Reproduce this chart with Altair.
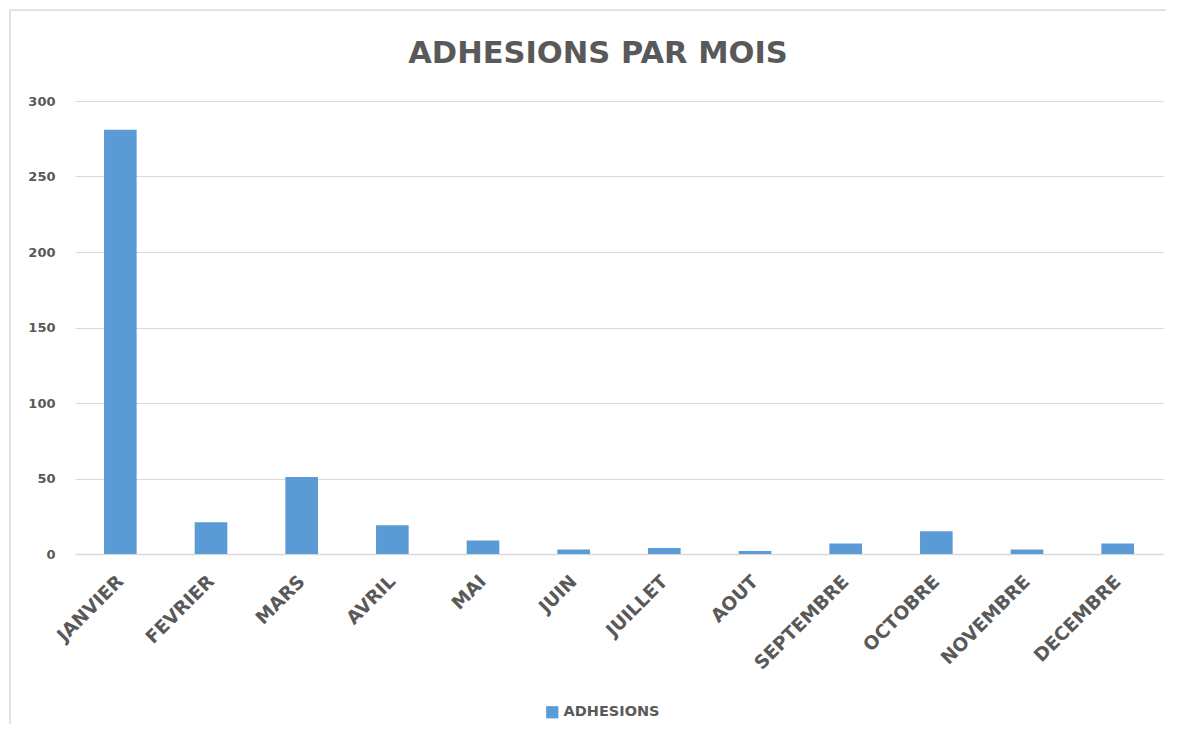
import altair as alt
import pandas as pd

months = ["JANVIER", "FEVRIER", "MARS", "AVRIL", "MAI", "JUIN", "JUILLET",
          "AOUT", "SEPTEMBRE", "OCTOBRE", "NOVEMBRE", "DECEMBRE"]
adhesions = [281, 21, 51, 19, 9, 3, 4, 2, 7, 15, 3, 7]
series = ["ADHESIONS"] * len(months)
title_text = ["ADHESIONS PAR MOIS"]

df = pd.DataFrame({"mois": months, "adhesions": adhesions, "serie": series})
df_title = pd.DataFrame({"t": title_text})

FONT = "DejaVu Sans"
GREY = "#595959"
BLUE = "#5B9BD5"

W, H = 1088, 453

bars = alt.Chart(df).mark_bar(color=BLUE).encode(
    x=alt.X("mois:N", sort=months, title=None,
            scale=alt.Scale(paddingInner=0.64, paddingOuter=0.32),
            axis=alt.Axis(labelAngle=-45, labelAlign="right", labelBaseline="middle",
                          labelFont=FONT, labelFontSize=18.5, labelFontWeight="bold",
                          labelColor=GREY, ticks=False, domainColor="#d9d9d9",
                          domainWidth=1.5, labelPadding=24, grid=False)),
    y=alt.Y("adhesions:Q", title=None,
            scale=alt.Scale(domain=[0, 300]),
            axis=alt.Axis(values=[0, 50, 100, 150, 200, 250, 300], domain=False,
                          ticks=False, labelFont=FONT, labelFontSize=13,
                          labelFontWeight="bold", labelColor=GREY,
                          labelPadding=20, gridColor="#d9d9d9", gridWidth=1.2)),
    fill=alt.Fill("serie:N", scale=alt.Scale(range=[BLUE]),
                  legend=alt.Legend(title=None, orient="none", legendX=470, legendY=604,
                                    symbolType="square", symbolSize=150,
                                    labelFont=FONT, labelFontSize=14.5,
                                    labelFontWeight="bold", labelColor=GREY)),
)

top_line = alt.Chart(df_title).mark_rule(color="#d9d9d9", strokeWidth=1.5, clip=False).encode(
    x=alt.value(-65), x2=alt.value(W + 200), y=alt.value(-91),
)
left_line = alt.Chart(df_title).mark_rule(color="#d9d9d9", strokeWidth=1.5, clip=False).encode(
    x=alt.value(-65), y=alt.value(-91), y2=alt.value(H + 400),
)

title = alt.Chart(df_title).mark_text(
    font=FONT, fontSize=30.5, fontWeight="bold", color=GREY,
    align="center", baseline="alphabetic", clip=False,
).encode(text="t:N", x=alt.value(523), y=alt.value(-38))

chart = alt.layer(top_line, left_line, bars, title).properties(
    width=W, height=H,
    autosize=alt.AutoSizeParams(type="none"),
    padding={"left": 67, "top": 93, "right": 3, "bottom": 170},
).configure_view(stroke=None)

chart.save("out.html", embed_options={"renderer": "svg", "actions": False})
